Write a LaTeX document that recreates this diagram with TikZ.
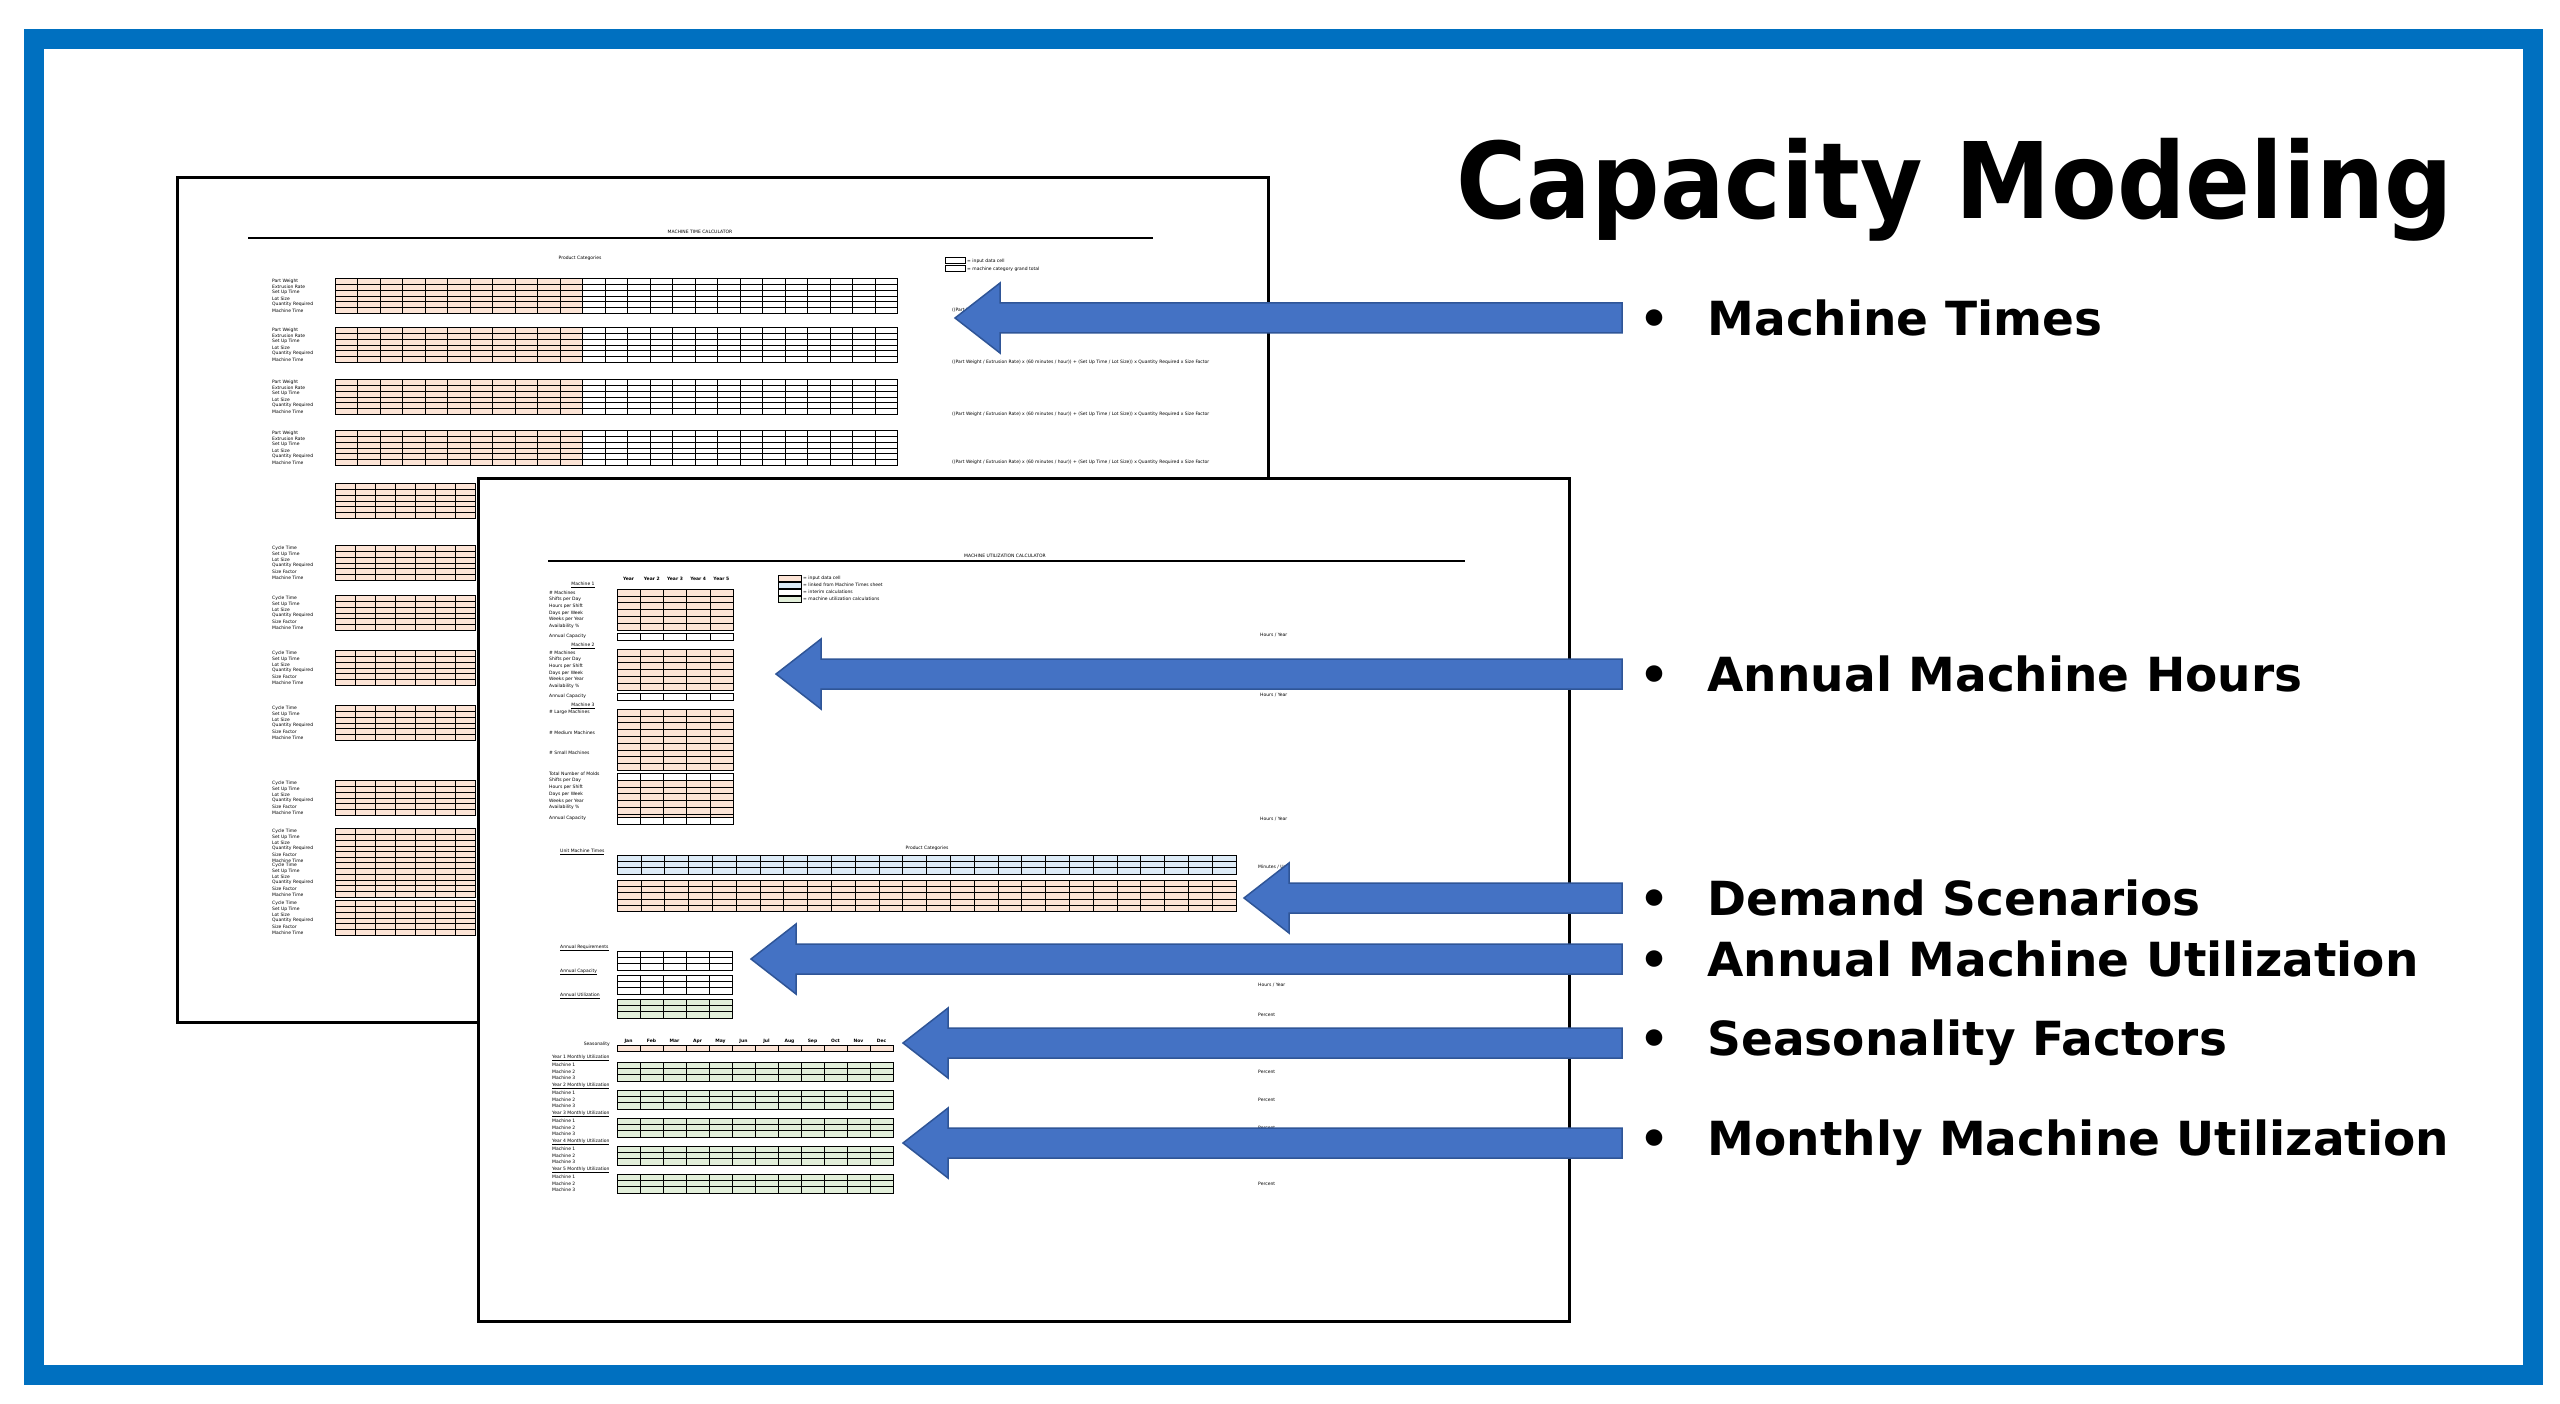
\documentclass[tikz,border=0pt]{standalone}
\usepackage{fontspec}
\setmainfont{DejaVu Sans}
\begin{document}
\begin{tikzpicture}[x=1pt,y=-1pt,
  cell/.style={draw=black,line width=0.35pt},
  sheet/.style={draw=black,line width=3pt,fill=white},
  bigarrow/.style={fill=arrowblue,draw=arrowedge,line width=1.5pt},
  bul/.style={anchor=west,font=\fontsize{47}{50}\selectfont\bfseries},
  tiny/.style={font=\fontsize{4.5}{5}\selectfont,inner sep=0pt}]
\definecolor{frameblue}{HTML}{0070C0}
\definecolor{arrowblue}{HTML}{4472C4}
\definecolor{arrowedge}{HTML}{2F5597}
\definecolor{peach}{HTML}{FCE4D6}
\definecolor{lgreen}{HTML}{E2EFDA}
\definecolor{lblue}{HTML}{DDEBF7}
\newcommand\mygrid[7]{\foreach \i in {1,...,#3}{\foreach \j in {1,...,#4}{\draw[cell,fill=#7] ({#1+(\i-1)*#5},{#2+(\j-1)*#6}) rectangle ++(#5,#6);}}}
\useasboundingbox (0,0) rectangle (2560,1404);
\fill[white] (0,0) rectangle (2560,1404);
\draw[frameblue,line width=20pt] (34,39) rectangle (2533,1375);
% sheet 1
\node[sheet,minimum width=1091pt,minimum height=845pt,anchor=north west,inner sep=0pt] (s1) at (176,176) {};
\draw[line width=1.2pt] (248,238) -- (1153,238);
\node[tiny] (t1) at (700,232) {MACHINE TIME CALCULATOR};
\node[tiny] (t1b) at (580,258) {Product Categories};
\foreach \y in {278,327,379,430}{\mygrid{335}{\y}{11}{6}{22.5}{5.9}{peach}\mygrid{582.5}{\y}{14}{6}{22.5}{5.9}{white}
  \foreach \k/\lab in {0/Part Weight,1/Extrusion Rate,2/Set Up Time,3/Lot Size,4/Quantity Required,5/Machine Time}{\node[tiny,anchor=west] at (272,{\y+2.95+\k*5.9}) {\lab};}}
\foreach \y in {310,362,414,462}{\node[tiny,anchor=west] at (952,\y) {((Part Weight / Extrusion Rate) x (60 minutes / hour)) + (Set Up Time / Lot Size)) x Quantity Required x Size Factor};}
\mygrid{335}{483}{7}{6}{20}{5.9}{peach}
\foreach \y in {545,595,650,705,780,828,862,900}{\mygrid{335}{\y}{7}{6}{20}{5.9}{peach}
  \foreach \k/\lab in {0/Cycle Time,1/Set Up Time,2/Lot Size,3/Quantity Required,4/Size Factor,5/Machine Time}{\node[tiny,anchor=west] at (272,{\y+2.95+\k*5.9}) {\lab};}}
\draw[line width=1pt] (945,258) rectangle (965,264) (945,266) rectangle (965,272);
\node[tiny,anchor=west] at (967,261) {= input data cell};
\node[tiny,anchor=west] at (967,269) {= machine category grand total};
% sheet 2
\node[sheet,minimum width=1091pt,minimum height=843pt,anchor=north west,inner sep=0pt] (s2) at (477,477) {};
\draw[line width=1.2pt] (548,561) -- (1465,561);
\node[tiny] (t2) at (1005,556) {MACHINE UTILIZATION CALCULATOR};
\foreach \k/\lab in {0/Year,1/Year 2,2/Year 3,3/Year 4,4/Year 5}{\node[tiny,font=\fontsize{4.5}{5}\selectfont\bfseries] at ({628.6+\k*23.2},579) {\lab};}
\mygrid{617}{589}{5}{6}{23.2}{6.8}{peach}\mygrid{617}{633}{5}{1}{23.2}{6.8}{white}
\mygrid{617}{649}{5}{6}{23.2}{6.8}{peach}\mygrid{617}{693}{5}{1}{23.2}{6.8}{white}
\mygrid{617}{709}{5}{9}{23.2}{6.8}{peach}\mygrid{617}{773}{5}{1}{23.2}{6.8}{white}
\mygrid{617}{780}{5}{6}{23.2}{6.8}{peach}\mygrid{617}{817}{5}{1}{23.2}{6.8}{white}
\foreach \y in {589,649}{\foreach \k/\lab in {0/\# Machines,1/Shifts per Day,2/Hours per Shift,3/Days per Week,4/Weeks per Year,5/Availability \%,6.5/Annual Capacity}{\node[tiny,anchor=west] at (549,{\y+3.4+\k*6.8}) {\lab};}}
\node[tiny] at (583,585) {\underline{Machine 1}}; \node[tiny] at (583,646) {\underline{Machine 2}}; \node[tiny] at (583,706) {\underline{Machine 3}};
\foreach \k/\lab in {0/\# Large Machines,3/\# Medium Machines,6/\# Small Machines,9/Total Number of Molds,10/Shifts per Day,11/Hours per Shift,12/Days per Week,13/Weeks per Year,14/Availability \%,15.5/Annual Capacity}{\node[tiny,anchor=west] at (549,{712.4+\k*6.8}) {\lab};}
\foreach \y in {635,695,819}{\node[tiny,anchor=west] at (1260,\y) {Hours / Year};}
\draw[cell,fill=peach] (778,575) rectangle (801,581); \draw[cell,fill=lblue] (778,582) rectangle (801,588);
\draw[cell,fill=white] (778,589) rectangle (801,595); \draw[cell,fill=lgreen] (778,596) rectangle (801,602);
\node[tiny,anchor=west] at (803,578) {= input data cell}; \node[tiny,anchor=west] at (803,585) {= linked from Machine Times sheet};
\node[tiny,anchor=west] at (803,592) {= interim calculations}; \node[tiny,anchor=west] at (803,599) {= machine utilization calculations};
% demand table
\node[tiny] at (927,848) {Product Categories};
\node[tiny,anchor=west] at (560,852) {\underline{Unit Machine Times}};
\mygrid{617}{855}{26}{3}{23.8}{6.3}{lblue}
\mygrid{617}{880}{26}{5}{23.8}{6.3}{peach}
\node[tiny,anchor=west] at (1258,867) {Minutes / Unit};
\foreach \y/\lab in {948/Annual Requirements,972/Annual Capacity,996/Annual Utilization}{\node[tiny,anchor=west] at (560,\y) {\underline{\lab}};}
\mygrid{617}{951}{5}{3}{23}{6.3}{white}\mygrid{617}{975}{5}{3}{23}{6.3}{white}\mygrid{617}{999}{5}{3}{23}{6.3}{lgreen}
\node[tiny,anchor=west] at (1258,985) {Hours / Year}; \node[tiny,anchor=west] at (1258,1015) {Percent};
\node[tiny,anchor=east] at (610,1044) {Seasonality};
\foreach \k/\lab in {0/Jan,1/Feb,2/Mar,3/Apr,4/May,5/Jun,6/Jul,7/Aug,8/Sep,9/Oct,10/Nov,11/Dec}{\node[tiny,font=\fontsize{4.5}{5}\selectfont\bfseries] at ({628.5+\k*23},1041) {\lab};}
\mygrid{617}{1045}{12}{1}{23}{6.3}{peach}
\foreach \y/\n in {1062/1,1090/2,1118/3,1146/4,1174/5}{\node[tiny,anchor=west] at (552,{\y-4}) {\underline{Year \n\ Monthly Utilization}};\mygrid{617}{\y}{12}{3}{23}{6.3}{lgreen}
  \foreach \k in {0,1,2}{\pgfmathtruncatemacro\m{\k+1}\node[tiny,anchor=west] at (552,{\y+3.15+\k*6.3}) {Machine \m};}
  \node[tiny,anchor=west] at (1258,{\y+10}) {Percent};}
% title and bullets
\node[anchor=south east,inner sep=0pt] (title) at (2453,242) {\resizebox*{996pt}{103pt}{\bfseries Capacity Modeling}};
\foreach \y/\t/\tip/\n in {318/Machine Times/955/a,674/Annual Machine Hours/776/b,898/Demand Scenarios/1244/c,959/Annual Machine Utilization/751/d,1043/Seasonality Factors/903/e,1143/Monthly Machine Utilization/903/f}{
  \node[bul] (txt\n) at (1636,\y) {\textbullet\hspace{38pt}\t};
  \coordinate (tail\n) at (1622,\y);
  \coordinate (tip\n) at (\tip,\y);
  \draw[bigarrow] (tail\n) ++(0,-15) -- ++({\tip+45-1622},0) -- ++(0,-20) -- (tip\n) -- ++(45,35) -- ++(0,-20) -- ++({1622-\tip-45},0) -- cycle;
}
\end{tikzpicture}
\end{document}
